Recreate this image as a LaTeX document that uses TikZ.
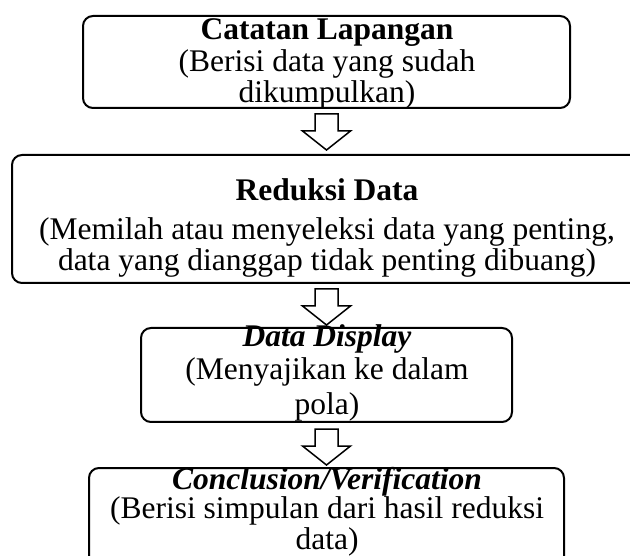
\documentclass[tikz,border=0pt]{standalone}
\usepackage{fontspec}
\setmainfont{Liberation Serif}
\usetikzlibrary{calc}
\tikzset{
  boxstyle/.style={draw, line width=2pt, rounded corners=10pt, inner sep=0pt},
  txt/.style={anchor=base, inner sep=0pt, font=\fontsize{31.5}{32}\selectfont},
  ttl/.style={txt, font=\fontsize{31.5}{32}\selectfont\bfseries},
  ttli/.style={txt, font=\fontsize{31.5}{32}\selectfont\bfseries\itshape},
  blockarrow/.pic={\draw[line width=1.5pt, line join=miter, fill=white]
    (-11.5,0) -- (-11.5,17) -- (-24,17) -- (0,36) -- (24,17) -- (11.5,17) -- (11.5,0) -- cycle;}
}
\begin{document}
\begin{tikzpicture}[x=1pt,y=-1pt]
\useasboundingbox (0,0) rectangle (630,556);
% boxes
\node[boxstyle, minimum width=487pt, minimum height=92pt] (b1) at (326.5,62) {};
\node[boxstyle, minimum width=648pt, minimum height=128pt] (b2) at (336,219) {};
\node[boxstyle, minimum width=371pt, minimum height=94pt] (b3) at (326.5,375) {};
\node[boxstyle, minimum width=475pt, minimum height=112pt] (b4) at (326.5,524) {};
% texts
\node[ttl] (t11) at (327,40) {Catatan Lapangan};
\node[txt] (t12) at (327,72) {(Berisi data yang sudah};
\node[txt] (t13) at (327,103) {dikumpulkan)};
\node[ttl] (t21) at (327,201) {Reduksi Data};
\node[txt] (t22) at (327,240) {(Memilah atau menyeleksi data yang penting,};
\node[txt] (t23) at (327,271) {data yang dianggap tidak penting dibuang)};
\node[ttli] (t31) at (327,347) {Data Display};
\node[txt] (t32) at (327,380) {(Menyajikan ke dalam};
\node[txt] (t33) at (327,414) {pola)};
\node[ttli] (t41) at (327,489) {Conclusion/Verification};
\node[txt] (t42) at (327,518) {(Berisi simpulan dari hasil reduksi};
\node[txt] (t43) at (327,549) {data)};
% arrows
\pic at ($(b1.south)+(0,5)$) {blockarrow};
\pic at ($(b1.south |- b2.south)+(0,5)$) {blockarrow};
\pic at ($(b3.south)+(0,6)$) {blockarrow};
\end{tikzpicture}
\end{document}
